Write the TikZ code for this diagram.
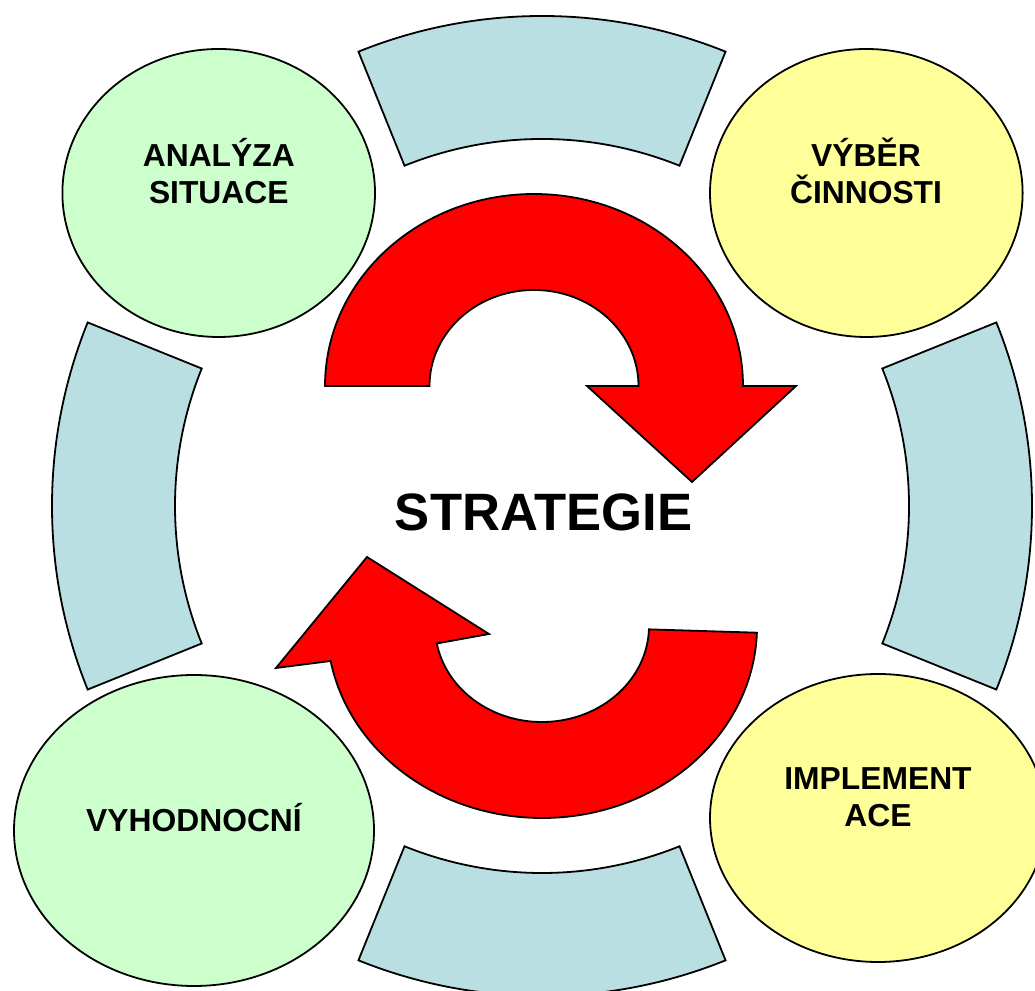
\documentclass[tikz,border=0pt]{standalone}
\usepackage{fontspec}
\setmainfont{Liberation Sans}
\usetikzlibrary{calc,shapes.geometric}
\definecolor{ringblue}{HTML}{BADFE3}
\definecolor{paleGreen}{HTML}{CCFFCC}
\definecolor{paleYellow}{HTML}{FFFF99}
\definecolor{arrowRed}{HTML}{FF0000}
\begin{document}
\begin{tikzpicture}[x=1pt,y=1pt,
  outline/.style={draw=black, line width=1.8pt},
  ringseg/.style={outline, fill=ringblue},
  phase/.style={outline, ellipse, inner sep=0pt},
  greenphase/.style={phase, fill=paleGreen},
  yellowphase/.style={phase, fill=paleYellow},
  cyclearrow/.style={outline, fill=arrowRed},
  label/.style={align=center, inner sep=0pt, font=\bfseries\fontsize{31.8}{37}\selectfont},
  title/.style={inner sep=0pt, font=\bfseries\fontsize{52.6}{60}\selectfont}]
\useasboundingbox (0,0) rectangle (1035,990);
\clip (0,0) rectangle (1035,990);

% outer ring: four blue segments of an annulus
\coordinate (C) at (542,484);
\foreach \a in {0,90,180,270}{
  \draw[ringseg] ($(C)+(\a-22:490pt)$)
    arc[start angle=\a-22, end angle=\a+22, radius=490pt]
    -- ($(C)+(\a+22:367pt)$)
    arc[start angle=\a+22, end angle=\a-22, radius=367pt] -- cycle;
}

% the four phases
\node[greenphase, minimum width=312.6pt, minimum height=288pt] (analysis) at (218.7,797) {};
\node[yellowphase, minimum width=312.6pt, minimum height=288pt] (choice) at (866.3,797) {};
\node[greenphase, minimum width=360pt, minimum height=311pt] (evaluation) at (194,159.5) {};
\node[yellowphase, minimum width=336pt, minimum height=288pt] (implementation) at (878,172) {};

\node[label, anchor=base] (analysisText) at (218.8,786.7) {ANALÝZA\\SITUACE};
\node[label, anchor=base] (choiceText) at (866,786.7) {VÝBĚR\\ČINNOSTI};
\node[label, anchor=base] (evaluationText) at (194,158.3) {VYHODNOCNÍ};
\node[label, anchor=base] (implementationText) at (878,163.3) {IMPLEMENT\\ACE};

% upper curved arrow, pointing down on the right
\draw[cyclearrow] (325,604)
  arc[start angle=180, end angle=0, x radius=209pt, y radius=192pt]
  -- (796,604) -- (692,508) -- (587,604) -- (638.5,604)
  arc[start angle=0, end angle=180, x radius=104.5pt, y radius=96pt] -- cycle;

% lower curved arrow, pointing up on the left
\draw[cyclearrow] (756.9,357.3)
  arc[start angle=-2, end angle=-169.5, x radius=215pt, y radius=192pt]
  -- (276,322) -- (367,433) -- (489,356) -- (436.8,346.5)
  arc[start angle=-169.5, end angle=-2, x radius=107pt, y radius=96pt] -- cycle;

\node[title, anchor=base] (strategy) at (543.5,459) {STRATEGIE};
\end{tikzpicture}
\end{document}
